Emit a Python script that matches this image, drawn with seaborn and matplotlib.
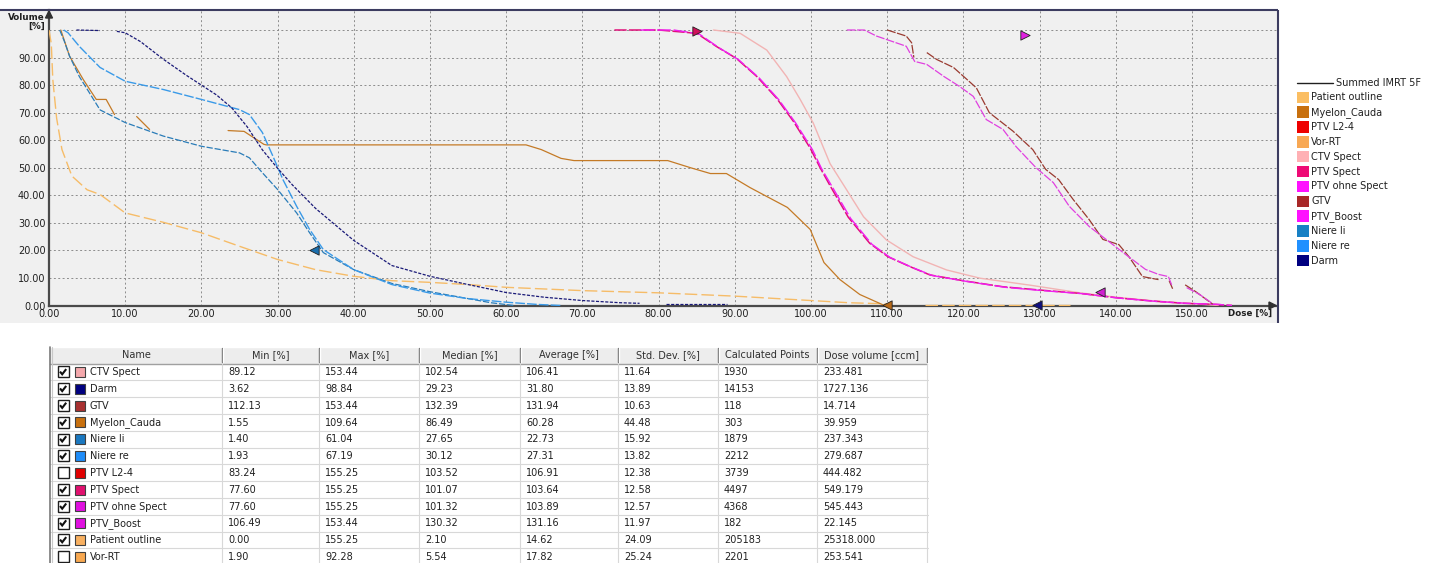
import numpy as np
import pandas as pd
import matplotlib
matplotlib.use("Agg")
import matplotlib.pyplot as plt
from matplotlib.patches import Rectangle, Polygon
import seaborn as sns

nan = np.nan

# ---------------- DVH curves: dose [%] vs. volume [%] (NaN = break in the drawn line) ----------------
patient_dose = [0, 0.3, 0.5, 1.0, 1.7, 3.0, 5.0, 6.7, 10, 15, 20, 25, 30, 35, 40, 45, 50, 55, 60, 70, 80, 90, 100, 105, 110, nan, 115, 134]
patient_vol = [100, 95, 82, 68, 56.6, 47, 42, 40.3, 33.6, 30.2, 26.4, 21.5, 16.7, 13, 10.6, 9.0, 8.4, 7.6, 6.6, 5.4, 4.6, 3.4, 1.8, 1.0, 0.6, nan, 0.3, 0.3]

myelon_dose = [1.55, 2.7, 4.5, 6.2, 7.5, 8.6, nan, 11.5, 13.2, nan, 23.5, 25.6, 28.2, 28.5, 62.6, 64.6, 67.2, 68.9, 81.2, 84.2, 86.8, 88.9, 92.0, 93.7, 96.9, 99.9, 101.7, 103.8, 106.4, 109.64]
myelon_vol = [100, 90.5, 82, 74.8, 74.8, 69.3, nan, 68.6, 63.9, nan, 63.5, 63.2, 58.5, 58.3, 58.3, 56.6, 53.4, 52.6, 52.6, 50, 47.9, 47.9, 42.8, 40.3, 35.6, 27.6, 15.6, 9.4, 4.0, 0]

darm_dose = [3.6, 6.7, nan, 8.9, 10, 12, 15, 18, 20, 22, 24, 26, 28, 30, 32, 35, 40, 45, 50, 55, 60, 65, 70, 75, 77.5, nan, 81, 89]
darm_vol = [100, 99.8, nan, 99.5, 99, 95.8, 89.4, 83.6, 80, 76.4, 71.7, 64.9, 56.5, 49.8, 43.6, 35.2, 23.6, 14.5, 10.6, 7.6, 4.7, 3.0, 1.8, 1.0, 0.8, nan, 0.4, 0.4]

niere_re_dose = [1.93, 2.5, 4.0, 6.7, 10, 15, 20, 25, 26.3, 28, 29.4, 30.7, 32.5, 34.2, 36, 40, 45, 50, 55, 60, 64, 67.19]
niere_re_vol = [100, 99, 94, 86.4, 81.4, 78.4, 74.8, 71.1, 69.3, 62.8, 54.1, 45.7, 36, 27.6, 20.3, 13, 7.6, 4.5, 2.5, 1.2, 0.4, 0]

niere_li_dose = [1.40, 2.0, 2.7, 4.0, 6.7, 10, 15, 20, 25, 26.3, 28, 30, 32.5, 34.2, 36, 40, 45, 50, 55, 58, 61.04]
niere_li_vol = [100, 96, 90.5, 83, 71, 66.4, 61.5, 57.8, 55.4, 53.6, 48.2, 42.1, 33.6, 26.4, 19.2, 13, 8, 5, 2.5, 1, 0]

ptv_spect_dose = [74.2, 80, 85, 87.6, 90.2, 92.9, 95.5, 97.7, 99.9, 101.2, 102.5, 104.9, 107.7, 110.1, 113, 115.6, 120.2, 125.2, 130.1, 135.3, 140.1, 144.9, 148.9, 153.2, 155.25]
ptv_spect_vol = [100, 100, 98.8, 94, 89.7, 83.1, 75.2, 66.8, 57.1, 50, 43.5, 32, 22.6, 17.7, 14.1, 11.1, 8.9, 6.8, 5.6, 4.4, 2.8, 1.6, 0.8, 0.4, 0]

ptv_ohne_dose = [77.6, 82, 85.3, 87.9, 90.5, 93.2, 95.8, 98.0, 100.2, 101.4, 102.8, 105.2, 108.0, 110.4, 113.3, 115.9, 120.5, 125.5, 130.4, 135.6, 140.4, 145.2, 149.2, 153.4, 155.25]
ptv_ohne_vol = [100, 100, 98.6, 93.6, 89.2, 82.6, 74.6, 66.2, 56.5, 49.6, 43.0, 31.6, 22.2, 17.4, 13.8, 10.9, 8.7, 6.6, 5.4, 4.3, 2.7, 1.5, 0.8, 0.4, 0]

ctv_spect_dose = [87.2, 90.7, 94.2, 96.8, 98.6, 100.3, 102.5, 104.4, 106.9, 109.9, 113.4, 117.8, 122.2, 128.7, 135.3, 140.1, 144.9, 148.9, 153.44]
ctv_spect_vol = [100, 98.8, 92.7, 83.1, 74.7, 66.2, 51.5, 43.2, 32.2, 23.8, 17.7, 12.9, 9.9, 7.4, 4.6, 3.0, 1.7, 0.9, 0]

gtv_dose = [110.0, 112.5, 113.2, 113.5, nan, 115.2, 116.5, 118.7, 120, 121.7, 123.4, 126.5, 129.1, 130.8, 132.5, 134.4, 136.5, 138.3, 140.4, 141.7, 143.5, 145.6, nan, 147.0, 147.5, nan, 149.1, 150.5, 152.7]
gtv_vol = [100, 97.8, 95.4, 90, nan, 91.8, 89.3, 86.4, 83.2, 79, 70, 63.3, 56.6, 49.4, 45.7, 38.5, 31.2, 24, 22.1, 17.8, 10.5, 9.4, nan, 9.0, 5.8, nan, 7.5, 5.0, 0.5]

ptv_boost_dose = [104.7, 107.0, 108.6, 112.5, 113.6, 115.2, 117.4, 119.5, 121.3, 123.0, 125.2, 126.9, 129.5, 131.8, 133.9, 136.5, 139.1, 141.3, 143.9, 145.6, 146.9, 147.4, nan, 149.3, 151.0, 152.7]
ptv_boost_vol = [100, 100, 97.8, 94.1, 88.6, 87.5, 83.2, 79.5, 75.9, 67.5, 63.9, 57.7, 50.1, 44.6, 36, 28.7, 23.2, 18.5, 13.1, 11.3, 10.5, 7.0, nan, 6.5, 4.0, 0.7]

# ---------------- marker positions on the curves ----------------
marker_dose = [34.8, 85.0, 128.1, 137.9, 129.6, 110.0]
marker_vol = [20.3, 99.6, 98.2, 4.8, 0.3, 0.3]
marker_shape = ["<", ">", ">", "<", "<", "<"]
marker_color = ["#1A6FAE", "#D0105A", "#E020E0", "#D020D0", "#101080", "#B86A18"]

# ---------------- legend ----------------
legend_names = ["Patient outline", "Myelon_Cauda", "PTV L2-4", "Vor-RT", "CTV Spect", "PTV Spect",
                "PTV ohne Spect", "GTV", "PTV_Boost", "Niere li", "Niere re", "Darm"]
legend_colors = ["#FBBE62", "#C8700E", "#EE0000", "#F8A854", "#FFB0B4", "#EE0A76",
                 "#FF10FF", "#A82828", "#FF10FF", "#1880C4", "#2090FF", "#000080"]

# ---------------- statistics table ----------------
tbl_header = ["Name", "Min [%]", "Max [%]", "Median [%]", "Average [%]", "Std. Dev. [%]",
              "Calculated Points", "Dose volume [ccm]"]
tbl_names = ["CTV Spect", "Darm", "GTV", "Myelon_Cauda", "Niere li", "Niere re", "PTV L2-4",
             "PTV Spect", "PTV ohne Spect", "PTV_Boost", "Patient outline", "Vor-RT"]
tbl_checked = [True, True, True, True, True, True, False, True, True, True, True, False]
tbl_colors = ["#F4A8AC", "#000080", "#A83030", "#C8700E", "#1A78C0", "#1E8CF8", "#E00000",
              "#E0106E", "#E010E0", "#E010E0", "#F8B060", "#F8A850"]
tbl_min = [89.12, 3.62, 112.13, 1.55, 1.40, 1.93, 83.24, 77.60, 77.60, 106.49, 0.00, 1.90]
tbl_max = [153.44, 98.84, 153.44, 109.64, 61.04, 67.19, 155.25, 155.25, 155.25, 153.44, 155.25, 92.28]
tbl_median = [102.54, 29.23, 132.39, 86.49, 27.65, 30.12, 103.52, 101.07, 101.32, 130.32, 2.10, 5.54]
tbl_average = [106.41, 31.80, 131.94, 60.28, 22.73, 27.31, 106.91, 103.64, 103.89, 131.16, 14.62, 17.82]
tbl_std = [11.64, 13.89, 10.63, 44.48, 15.92, 13.82, 12.38, 12.58, 12.57, 11.97, 24.09, 25.24]
tbl_points = [1930, 14153, 118, 303, 1879, 2212, 3739, 4497, 4368, 182, 205183, 2201]
tbl_volume = [233.481, 1727.136, 14.714, 39.959, 237.343, 279.687, 444.482, 549.179, 545.443,
              22.145, 25318.000, 253.541]

# ---------------- build long-form data ----------------
curves = [
    # name, dose, vol, color, width, linestyle
    ("Patient outline", patient_dose, patient_vol, "#F6BC68", 1.0, (0, (9, 3))),
    ("Myelon_Cauda", myelon_dose, myelon_vol, "#C47A26", 0.9, "-"),
    ("Niere li", niere_li_dose, niere_li_vol, "#2A7CB8", 0.9, (0, (5, 1.5))),
    ("Niere re", niere_re_dose, niere_re_vol, "#3A9AE8", 1.0, (0, (7, 1.5))),
    ("Darm", darm_dose, darm_vol, "#1A1A78", 0.9, (0, (2.5, 1.2))),
    ("CTV Spect", ctv_spect_dose, ctv_spect_vol, "#F2B4B4", 1.0, "-"),
    ("PTV Spect", ptv_spect_dose, ptv_spect_vol, "#E0107A", 1.1, (0, (8, 1.5))),
    ("PTV ohne Spect", ptv_ohne_dose, ptv_ohne_vol, "#F020F0", 1.0, (0, (10, 2))),
    ("GTV", gtv_dose, gtv_vol, "#9A3A30", 0.9, (0, (7, 1.2))),
    ("PTV_Boost", ptv_boost_dose, ptv_boost_vol, "#E040E0", 0.9, (0, (7, 1.2))),
]
frames = []
for name, d, v, *_ in curves:
    d = np.asarray(d, float)
    v = np.asarray(v, float)
    seg = np.cumsum(np.isnan(d))
    keep = ~np.isnan(d)
    frames.append(pd.DataFrame({"structure": name, "seg": seg[keep], "dose": d[keep], "volume": v[keep]}))
dvh = pd.concat(frames, ignore_index=True)

# ---------------- figure ----------------
W, H = 1437, 563
sns.set_theme(style="white")
plt.rcParams["font.family"] = ["DejaVu Sans"]

fig = plt.figure(figsize=(W / 100, H / 100), dpi=100)
fig.patch.set_facecolor("white")

bg = fig.add_axes([0, 0, 1, 1], zorder=0)
bg.set_xlim(0, W)
bg.set_ylim(H, 0)
bg.axis("off")
bg.add_patch(Rectangle((0, 10), 1278, 313, facecolor="#F0F0F0", edgecolor="none"))

# plot area in pixels
x0_px, x1_px, y0_px, y1_px = 49, 1277, 305.5, 10
px_per_dose, px_per_vol = 7.62, 2.755
ax = fig.add_axes([x0_px / W, (H - y0_px) / H, (x1_px - x0_px) / W, (y0_px - y1_px) / H], zorder=1)
ax.set_facecolor("none")
ax.set_xlim(0, (x1_px - x0_px) / px_per_dose)
ax.set_ylim(0, (y0_px - y1_px) / px_per_vol)

for name, d, v, color, lw, ls in curves:
    sub = dvh[dvh["structure"] == name]
    sns.lineplot(data=sub, x="dose", y="volume", units="seg", estimator=None, sort=False,
                 color=color, linewidth=lw, linestyle=ls, ax=ax, legend=False, zorder=3)

for d, v, m, c in zip(marker_dose, marker_vol, marker_shape, marker_color):
    sns.scatterplot(x=[d], y=[v], marker=m, color=c, s=45, edgecolor="#202020", linewidth=0.6,
                    ax=ax, zorder=6, clip_on=False, legend=False)

xt = np.arange(0, 151, 10)
yt = np.arange(0, 101, 10)
ax.set_xticks(xt)
ax.set_xticklabels([f"{t:.2f}" for t in xt])
ax.set_yticks(yt)
# the 100 % row carries the axis caption instead of a number
ax.set_yticklabels([f"{t:.2f}" if t < 100 else "" for t in yt])
ax.tick_params(axis="both", length=0, labelsize=7, colors="#202020")
ax.tick_params(axis="x", pad=2.5)
ax.tick_params(axis="y", pad=2.5)
ax.get_yticklabels()[0].set_y(0.8)
ax.set_xlabel("")
ax.set_ylabel("")
ax.grid(True, color="#8C8C8C", linestyle=(0, (2, 2.5)), linewidth=0.7)
ax.set_axisbelow(True)
for s in ["top", "right"]:
    ax.spines[s].set_visible(False)
for s in ["left", "bottom"]:
    ax.spines[s].set_color("#4A4A4A")
    ax.spines[s].set_linewidth(1.6)

# ---------------- overlay: frame, axis captions, legend, table ----------------
fg = fig.add_axes([0, 0, 1, 1], zorder=5)
fg.set_xlim(0, W)
fg.set_ylim(H, 0)
fg.axis("off")
fg.patch.set_alpha(0)

fg.plot([0, 1278], [10, 10], color="#3C3C60", lw=1.5, solid_capstyle="butt")
fg.plot([1278, 1278], [10, 323], color="#3C3C60", lw=1.5, solid_capstyle="butt")
fg.add_patch(Polygon([[45.5, 18], [52.5, 18], [49, 11]], closed=True, color="#303030"))
fg.add_patch(Polygon([[1269, 302], [1269, 309], [1276, 305.5]], closed=True, color="#303030"))
fg.text(45, 17, "Volume", ha="right", va="center", fontsize=6.3, fontweight="bold", color="#202020")
fg.text(45, 26.5, "[%]", ha="right", va="center", fontsize=6.3, fontweight="bold", color="#202020")
fg.text(1272, 313.5, "Dose [%]", ha="right", va="center", fontsize=6.3, fontweight="bold", color="#202020")

# legend
leg_y0, leg_dy = 82.5, 14.85
fg.plot([1297, 1333], [leg_y0, leg_y0], color="#202020", lw=1.0)
fg.text(1336, leg_y0, "Summed IMRT 5F", ha="left", va="center", fontsize=7, color="#202020")
for i, (nm, col) in enumerate(zip(legend_names, legend_colors)):
    y = leg_y0 + leg_dy * (i + 1)
    fg.add_patch(Rectangle((1297, y - 5.8), 11.5, 11.5, facecolor=col, edgecolor="none"))
    fg.text(1311, y, nm, ha="left", va="center", fontsize=7, color="#202020")

# table
col_edges = [50, 222, 319, 419, 520, 618, 718, 817, 927]
hdr_top, hdr_bot = 346.5, 363.5
row_h = 16.8
n_rows = len(tbl_names)
fg.add_patch(Rectangle((col_edges[0], hdr_top), col_edges[-1] - col_edges[0], hdr_bot - hdr_top,
                       facecolor="#EDEDED", edgecolor="none"))
fg.plot([col_edges[0], col_edges[-1]], [hdr_top, hdr_top], color="#FFFFFF", lw=1)
fg.plot([col_edges[0], col_edges[-1]], [hdr_bot, hdr_bot], color="#A0A0A0", lw=1)
for i, lbl in enumerate(tbl_header):
    xc = (col_edges[i] + col_edges[i + 1]) / 2
    fg.text(xc, (hdr_top + hdr_bot) / 2 + 0.5, lbl, ha="center", va="center", fontsize=7, color="#303030")
for x in col_edges[1:]:
    fg.plot([x, x], [hdr_top + 1.5, hdr_bot - 1.5], color="#6A6A6A", lw=1)
    fg.plot([x + 1, x + 1], [hdr_top + 1.5, hdr_bot - 1.5], color="#FFFFFF", lw=1)

body_bot = hdr_bot + row_h * n_rows
for x in col_edges[1:]:
    fg.plot([x, x], [hdr_bot, body_bot], color="#D8D8D8", lw=0.8)
for r in range(1, n_rows + 1):
    y = hdr_bot + row_h * r
    fg.plot([col_edges[0], col_edges[-1] + 1], [y, y], color="#D8D8D8", lw=0.8)
fg.plot([col_edges[0], col_edges[0]], [hdr_top, body_bot], color="#7A7A7A", lw=1.2)
fg.plot([col_edges[0] + 2, col_edges[0] + 2], [hdr_top, body_bot], color="#C8C8C8", lw=0.8)

for r in range(n_rows):
    yc = hdr_bot + row_h * r + row_h / 2
    # checkbox
    fg.add_patch(Rectangle((57.5, yc - 5.5), 11, 11, facecolor="white", edgecolor="#1E1E1E", lw=1.0))
    if tbl_checked[r]:
        fg.plot([60, 62.2, 66.2], [yc - 0.3, yc + 2.4, yc - 2.8], color="#101010", lw=1.5,
                solid_capstyle="butt", solid_joinstyle="miter")
    # structure colour
    fg.add_patch(Rectangle((75, yc - 5), 10, 10, facecolor=tbl_colors[r], edgecolor="#404040", lw=0.8))
    fg.text(90, yc + 0.3, tbl_names[r], ha="left", va="center", fontsize=7, color="#202020")
    cells = [f"{tbl_min[r]:.2f}", f"{tbl_max[r]:.2f}", f"{tbl_median[r]:.2f}", f"{tbl_average[r]:.2f}",
             f"{tbl_std[r]:.2f}", f"{tbl_points[r]:d}", f"{tbl_volume[r]:.3f}"]
    for c, txt in enumerate(cells):
        fg.text(col_edges[c + 1] + 6, yc + 0.3, txt, ha="left", va="center", fontsize=7, color="#202020")

fig.savefig("out.png", dpi=100, facecolor="white")
